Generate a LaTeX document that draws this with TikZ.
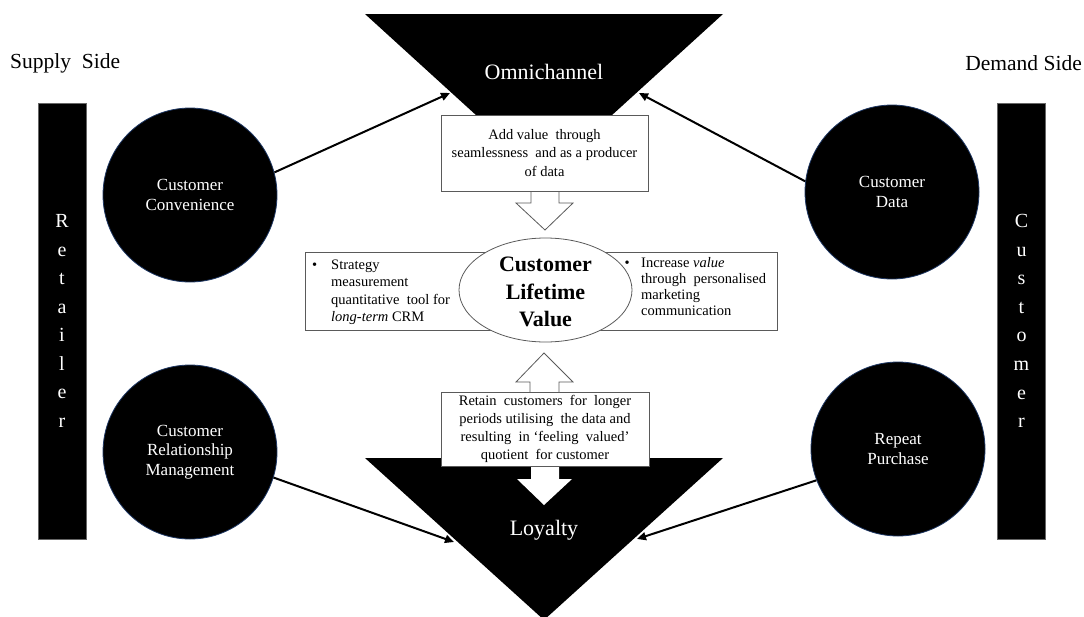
\documentclass[tikz,border=0pt]{standalone}
\usepackage{fontspec}
\setmainfont{Liberation Serif}
\usetikzlibrary{arrows.meta,shapes.geometric}
\definecolor{rim}{RGB}{31,56,100}
\definecolor{boxline}{RGB}{90,90,90}
\begin{document}
\begin{tikzpicture}[x=1pt,y=-1pt,
 bubble/.style={circle, fill=black, draw=rim, line width=0.8pt, minimum size=174pt, inner sep=0pt, text=white, align=center, font=\fontsize{17}{19.5}\selectfont},
 bar/.style={rectangle, fill=black, draw=black!60, minimum width=48pt, minimum height=436pt, inner sep=0pt, text=white, align=center, font=\fontsize{20}{28.57}\selectfont},
 sidelabel/.style={inner sep=0pt, font=\fontsize{21.5}{24}\selectfont},
 trilabel/.style={text=white, inner sep=0pt, font=\fontsize{22}{26}\selectfont},
 note/.style={rectangle, fill=white, draw=boxline, line width=0.8pt, align=center, font=\fontsize{14.5}{18.5}\selectfont, inner sep=0pt},
 plainbox/.style={rectangle, fill=white, draw=boxline, line width=0.8pt, inner sep=0pt},
 bullettext/.style={inner sep=0pt, anchor=west},
 hollow/.style={fill=white, draw=boxline, line width=0.8pt},
 link/.style={line width=2pt, -{Triangle[length=9pt,width=8pt]}},
]
\useasboundingbox (0,0) rectangle (1084,616);

% side labels
\node[sidelabel, anchor=west] (supply) at (10,63) {Supply\ \ Side};
\node[sidelabel, anchor=east] (demand) at (1082,63) {Demand Side};

% vertical bars
\node[bar] (retailer) at (62,321) {R\\e\\t\\a\\i\\l\\e\\r};
\node[bar] (customer) at (1021.5,321) {C\\u\\s\\t\\o\\m\\e\\r};

% funnels
\fill[black] (365,14) -- (723,14) -- (544,177) -- cycle;
\fill[black] (365,458) -- (723,458) -- (544,620) -- cycle;
\node[trilabel] (omni) at (544,72) {Omnichannel};
\node[trilabel] (loyal) at (544,530) {Loyalty};
\coordinate (omniL) at (450,93);
\coordinate (omniR) at (639,93);
\coordinate (loyL) at (454,542);
\coordinate (loyR) at (637,539);

% circles
\node[bubble] (conv) at (190,195) {Customer\\Convenience};
\node[bubble] (crm) at (190,452) {Customer\\Relationship\\Management};
\node[bubble] (data) at (892,192) {Customer\\Data};
\node[bubble] (rep) at (898,449) {Repeat\\Purchase};

% connectors
\draw[link] (conv.15) -- (omniL);
\draw[link] (data.173) -- (omniR);
\draw[link] (crm.-17) -- (loyL);
\draw[link] (rep.201) -- (loyR);

% top block arrow and box
\draw[hollow] (531,185) -- (531,203) -- (516,203) -- (545,230) -- (573,203) -- (559,203) -- (559,185);
\node[note, minimum width=207pt, minimum height=76pt] (addval) at (544.5,153) {Add value\ \ through\\seamlessness\ \ and as a producer\\of data};

% middle boxes
\node[plainbox, minimum width=240pt, minimum height=78pt] (leftbox) at (425,291) {};
\node[plainbox, minimum width=232pt, minimum height=78pt] (rightbox) at (661,291) {};
\node[bullettext, font=\fontsize{14.5}{17.5}\selectfont] (lefttext) at (312,292)
 {\begin{tabular}{@{}p{19pt}@{}l@{}}\textbullet & Strategy\\ & measurement\\ & quantitative\ \ tool for\\ & \textit{long-term} CRM\end{tabular}};
\node[bullettext, font=\fontsize{14.5}{16}\selectfont] (righttext) at (624.5,288)
 {\begin{tabular}{@{}p{16.5pt}@{}l@{}}\textbullet & Increase \textit{value}\\ & through\ \ personalised\\ & marketing\\ & communication\end{tabular}};
\node[ellipse, fill=white, draw=boxline, line width=0.8pt, minimum width=173pt, minimum height=104pt, inner sep=0pt] (clvshape) at (545.5,290) {};
\node[align=center, inner sep=0pt, font=\bfseries\fontsize{22}{27.5}\selectfont] (clv) at (545.5,292) {Customer\\Lifetime\\Value};

% bottom block arrows and box
\draw[hollow] (530,398) -- (530,382) -- (516,382) -- (544,353) -- (573,382) -- (559,382) -- (559,398);
\fill[white] (531,460) -- (531,479) -- (517,479) -- (544,505) -- (572,479) -- (559,479) -- (559,460) -- cycle;
\node[note, minimum width=208pt, minimum height=74pt, font=\fontsize{14.5}{18}\selectfont] (retain) at (545,429) {Retain\ \ customers\ \ for\ \ longer\\periods utilising\ \ the data and\\resulting\ \ in ‘feeling\ \ valued’\\quotient\ \ for customer};
\end{tikzpicture}
\end{document}
